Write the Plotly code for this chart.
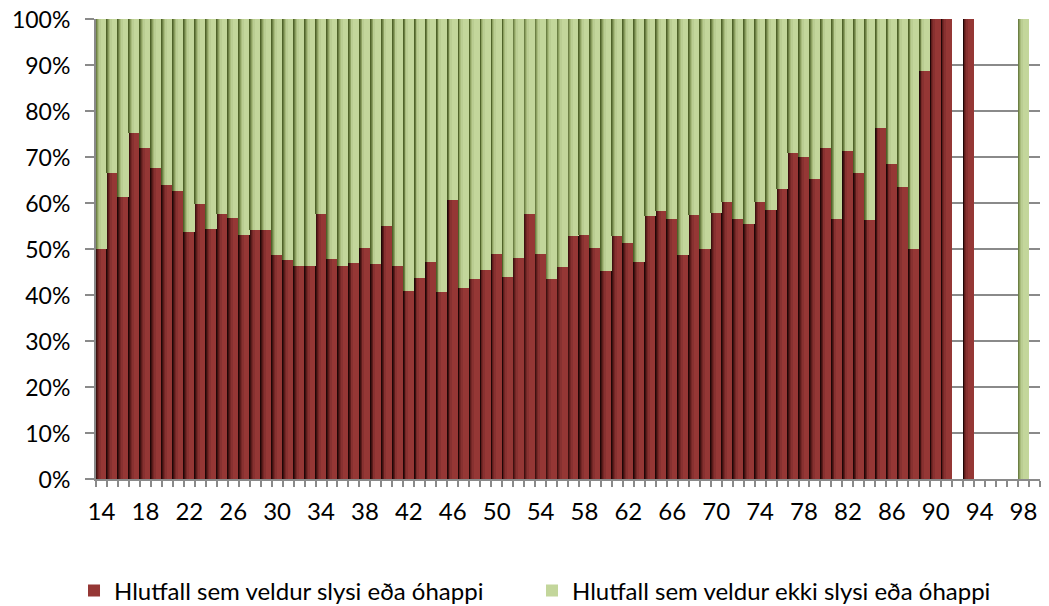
import plotly.graph_objects as go

ages = list(range(14, 100))

# share (%) that causes an accident or incident
hlutfall_slys = [
    50.0, 66.5, 61.3, 75.2, 71.9, 67.6, 63.9, 62.6, 53.7, 59.7,   # 14-23
    54.3, 57.6, 56.7, 53.0, 54.1, 54.1, 48.6, 47.6, 46.2, 46.2,   # 24-33
    57.6, 47.8, 46.2, 46.9, 50.2, 46.7, 54.9, 46.2, 40.8, 43.6,   # 34-43
    47.1, 40.6, 60.6, 41.5, 43.4, 45.4, 48.9, 43.9, 48.0, 57.6,   # 44-53
    48.9, 43.4, 46.0, 52.8, 53.0, 50.2, 45.2, 52.8, 51.2, 47.1,   # 54-63
    57.1, 58.2, 56.5, 48.6, 57.3, 49.9, 57.8, 60.2, 56.5, 55.4,   # 64-73
    60.2, 58.4, 63.0, 70.8, 70.0, 65.2, 71.9, 56.5, 71.3, 66.5,   # 74-83
    56.3, 76.3, 68.4, 63.4, 49.9, 88.7, 100.0, 100.0, None, 100.0,  # 84-93
    None, None, None, None, 0.0, None,                            # 94-99
]

# share (%) that does not cause an accident or incident
hlutfall_ekki_slys = [
    50.0, 33.5, 38.7, 24.8, 28.1, 32.4, 36.1, 37.4, 46.3, 40.3,
    45.7, 42.4, 43.3, 47.0, 45.9, 45.9, 51.4, 52.4, 53.8, 53.8,
    42.4, 52.2, 53.8, 53.1, 49.8, 53.3, 45.1, 53.8, 59.2, 56.4,
    52.9, 59.4, 39.4, 58.5, 56.6, 54.6, 51.1, 56.1, 52.0, 42.4,
    51.1, 56.6, 54.0, 47.2, 47.0, 49.8, 54.8, 47.2, 48.8, 52.9,
    42.9, 41.8, 43.5, 51.4, 42.7, 50.1, 42.2, 39.8, 43.5, 44.6,
    39.8, 41.6, 37.0, 29.2, 30.0, 34.8, 28.1, 43.5, 28.7, 33.5,
    43.7, 23.7, 31.6, 36.6, 50.1, 11.3, 0.0, 0.0, None, 0.0,
    None, None, None, None, 100.0, None,
]

series_names = [
    "Hlutfall sem veldur slysi eða óhappi",
    "Hlutfall sem veldur ekki slysi eða óhappi",
]
x_tick_labels = [str(a) for a in range(14, 99, 4)]
y_tick_labels = [f"{v}%" for v in range(0, 101, 10)]

RED_MAIN = "#953735"
RED_EDGE = ["#1f0606", "#3e1110", "#5c1c1b", "#752726", "#873130"]
GRN_MAIN = "#c3d69b"
GRN_EDGE = ["#4f6228", "#6c7f44", "#8ca060", "#a8bb7c", "#bacd92"]

green_base = [r if r is not None else 0 for r in hlutfall_slys]

fig = go.Figure()

def add_series(values, base, main, edges, name):
    fig.add_trace(go.Bar(
        x=ages, y=values, base=base, width=1.0, name=name,
        marker=dict(color=main, line=dict(width=0)), showlegend=True,
        hoverinfo="skip",
    ))
    step = 0.08
    for i, c in enumerate(edges):
        fig.add_trace(go.Bar(
            x=ages, y=values, base=base, width=step + 0.02, offset=-0.5 + i * step,
            marker=dict(color=c, line=dict(width=0)), showlegend=False,
            hoverinfo="skip",
        ))

add_series(hlutfall_slys, None, RED_MAIN, RED_EDGE, series_names[0])
add_series(hlutfall_ekki_slys, green_base, GRN_MAIN, GRN_EDGE, series_names[1])

FONT = "Lato, Calibri, Carlito, sans-serif"
GRAY = "#8a8a8a"

# the page body adds an 8px margin, so the figure is sized to fill the rest
fig.update_layout(
    width=1041, height=598,
    margin=dict(l=88, r=9, t=11, b=127, autoexpand=False),
    barmode="overlay", bargap=0,
    plot_bgcolor="white", paper_bgcolor="white",
    font=dict(family=FONT, size=24, color="black"),
    legend=dict(
        orientation="h", x=-0.0233, xanchor="left", y=-0.243, yanchor="middle",
        font=dict(size=24), entrywidth=413, entrywidthmode="pixels",
        itemwidth=30, traceorder="normal",
    ),
)

fig.update_xaxes(
    range=[13.5, 99.5], tickmode="array",
    tickvals=list(range(14, 99, 4)), ticktext=x_tick_labels,
    ticks="outside", ticklen=10, tickcolor="rgba(0,0,0,0)",
    showline=True, linecolor=GRAY, linewidth=2, showgrid=False, zeroline=False,
    minor=dict(tickvals=[a - 0.5 for a in range(14, 101)], ticks="outside",
               ticklen=6, tickcolor=GRAY, tickwidth=2, showgrid=False),
    tickfont=dict(size=24), automargin=False, ticklabeloverflow="allow",
)
fig.update_yaxes(
    range=[0, 100], tickmode="array", tickvals=list(range(0, 101, 10)),
    ticktext=y_tick_labels, ticks="outside", ticklen=9, tickcolor=GRAY, tickwidth=2,
    ticklabelstandoff=10, ticklabeloverflow="allow", ticklabelshift=1,
    showline=True, linecolor=GRAY, linewidth=2,
    showgrid=True, gridcolor=GRAY, gridwidth=1.5, zeroline=False,
    tickfont=dict(size=23), automargin=False,
)

fig.write_html("out.html")
